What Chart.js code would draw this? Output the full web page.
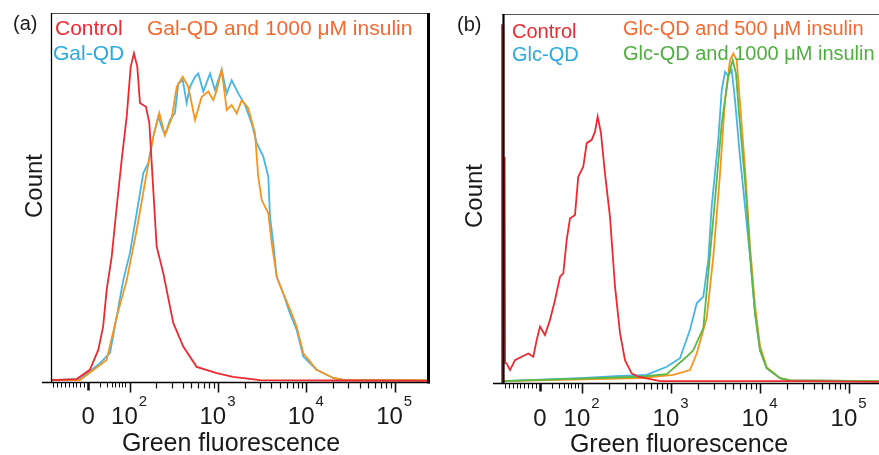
<!DOCTYPE html>
<html lang="en">
<head>
<meta charset="UTF-8">
<title>Green fluorescence histograms</title>
<script src="https://cdn.jsdelivr.net/npm/chart.js"></script>
<style>
  body { margin: 0; background: #fff; }
  #wrap { position: relative; width: 879px; height: 455px; }
  .panel { position: absolute; top: 0; height: 455px; }
  #panelA { left: 0; width: 440px; }
  #panelB { left: 440px; width: 439px; }
</style>
</head>
<body>
<div id="wrap">
  <div class="panel" id="panelA"><canvas id="chartA"></canvas></div>
  <div class="panel" id="panelB"><canvas id="chartB"></canvas></div>
</div>

<script>
// x = position on the biexponential axis in decades (2 = 10^2, 3 = 10^3 ...), y = relative count

// panel (a)
const galControlX = [1.11, 1.40, 1.55, 1.645, 1.70, 1.74, 1.797, 1.854, 1.91, 1.967, 2.012, 2.049, 2.087, 2.117, 2.185, 2.223, 2.268, 2.306, 2.381, 2.494, 2.607, 2.759, 2.986, 3.17, 3.476, 4.30, 5.40];
const galControlY = [0.5, 0.8, 3.3, 8.7, 15.0, 24.9, 34.0, 47.5, 60.2, 71.9, 85.4, 89.1, 85.4, 75.6, 74.6, 70.2, 52.0, 36.7, 29.5, 16.0, 9.6, 4.1, 2.4, 1.4, 0.5, 0.4, 0.3];

const galQdX = [1.11, 1.438, 1.665, 1.778, 1.854, 1.928, 2.004, 2.08, 2.155, 2.211, 2.268, 2.324, 2.363, 2.4, 2.457, 2.513, 2.551, 2.601, 2.646, 2.683, 2.74, 2.777, 2.834, 2.91, 2.966, 3.042, 3.099, 3.155, 3.23, 3.306, 3.382, 3.438, 3.513, 3.57, 3.589, 3.626, 3.665, 3.739, 3.815, 3.891, 3.966, 4.117, 4.305, 4.438, 5.40];
const galQdY = [0.5, 0.8, 5.1, 7.9, 17.7, 27.6, 35.0, 45.8, 56.6, 59.3, 66.5, 71.9, 69.2, 66.9, 71.0, 72.9, 80.9, 81.8, 75.6, 80.0, 82.7, 83.6, 78.7, 83.6, 79.1, 84.6, 78.2, 81.8, 78.2, 75.1, 70.1, 64.7, 61.1, 55.6, 44.8, 37.6, 28.5, 24.0, 18.6, 14.1, 6.9, 3.3, 1.1, 0.5, 0.5];

const galInsulinX = [1.11, 1.438, 1.74, 1.854, 1.967, 2.08, 2.193, 2.268, 2.336, 2.4, 2.476, 2.533, 2.601, 2.664, 2.74, 2.816, 2.89, 2.947, 2.986, 3.042, 3.099, 3.155, 3.212, 3.269, 3.343, 3.419, 3.456, 3.495, 3.57, 3.608, 3.665, 3.739, 3.834, 3.891, 3.966, 4.117, 4.305, 4.438, 5.40];
const galInsulinY = [0.5, 0.5, 6.0, 17.7, 27.6, 41.2, 56.6, 66.5, 72.9, 66.9, 71.5, 80.0, 82.7, 80.0, 71.0, 77.3, 78.7, 76.4, 79.1, 84.6, 73.7, 75.1, 72.8, 76.4, 74.2, 67.4, 55.6, 49.3, 45.7, 37.6, 28.5, 24.0, 18.6, 15.0, 7.8, 3.3, 1.1, 0.5, 0.5];

// panel (b)
const glcControlX = [1.10, 1.10, 1.112, 1.115, 1.13, 1.135, 1.153, 1.19, 1.246, 1.321, 1.396, 1.452, 1.49, 1.527, 1.583, 1.639, 1.696, 1.752, 1.789, 1.827, 1.864, 1.92, 1.957, 2.013, 2.052, 2.108, 2.145, 2.175, 2.212, 2.257, 2.313, 2.37, 2.426, 2.482, 2.557, 2.631, 2.875, 4.448, 5.336];
const glcControlY = [0, 97, 97, 61, 61, 5.4, 5.3, 3.5, 6.2, 7.1, 8.0, 7.1, 11.7, 15.3, 13.0, 17.1, 22.5, 28.8, 29.7, 38.8, 44.6, 45.5, 55.9, 58.6, 65.0, 65.9, 68.1, 72.2, 67.7, 56.8, 45.1, 26.1, 13.5, 6.2, 2.6, 1.7, 0.5, 0.5, 0.3];

const glcQdX = [1.10, 1.976, 2.426, 2.726, 2.951, 3.10, 3.212, 3.288, 3.362, 3.418, 3.456, 3.53, 3.569, 3.606, 3.64, 3.681, 3.718, 3.774, 3.831, 3.887, 3.943, 3.999, 4.074, 4.224, 4.336, 5.336];
const glcQdY = [0.5, 1.3, 1.9, 2.2, 4.4, 6.7, 14.4, 21.6, 23.4, 33.3, 47.8, 65.9, 79.4, 84.3, 83.2, 84.8, 76.7, 61.3, 47.8, 34.2, 18.9, 8.9, 4.0, 1.3, 0.7, 0.5];

const glc500X = [1.10, 2.651, 3.025, 3.212, 3.288, 3.40, 3.474, 3.55, 3.606, 3.662, 3.699, 3.737, 3.774, 3.831, 3.887, 3.943, 3.999, 4.074, 4.224, 4.336, 5.336];
const glc500Y = [0.5, 1.3, 2.2, 3.5, 8.0, 17.6, 34.2, 56.8, 76.7, 87.5, 89.3, 87.5, 76.0, 58.0, 37.0, 21.0, 10.0, 4.3, 1.3, 0.7, 0.5];

const glc1000X = [1.10, 2.651, 2.951, 3.175, 3.249, 3.362, 3.418, 3.493, 3.569, 3.643, 3.692, 3.729, 3.766, 3.83, 3.887, 3.943, 3.999, 4.074, 4.224, 4.336, 5.336];
const glc1000Y = [0.5, 1.7, 2.4, 7.1, 8.9, 14.9, 29.7, 49.6, 70.4, 83.0, 87.5, 83.9, 72.2, 55.0, 35.1, 18.9, 8.9, 4.0, 1.3, 0.7, 0.5];

// axis labels
const tickExponents = [2, 3, 4, 5];
const zeroLabel = '0';
const xTitle = 'Green fluorescence';
const yTitle = 'Count';

const FONT = '"Liberation Sans", Arial, sans-serif';
const RED = '#ec2a2f', BLUE = '#45b5e5', ORANGE = '#f7941e', GREEN = '#5cb947';

function pts(xs, ys) {
  return xs.map((x, i) => ({ x: x, y: ys[i] }));
}

function stroke(ctx, x1, y1, x2, y2, color, w) {
  ctx.strokeStyle = color;
  ctx.lineWidth = w;
  ctx.beginPath();
  ctx.moveTo(x1, y1);
  ctx.lineTo(x2, y2);
  ctx.stroke();
}

// frame, biexponential tick marks, labels and the coloured legend text
const flowFrame = {
  id: 'flowFrame',
  afterDatasetsDraw(chart, args, o) {
    const ctx = chart.ctx;
    const a = chart.chartArea;
    const xs = chart.scales.x;
    const base = a.bottom + 0.5;
    ctx.save();

    stroke(ctx, a.left, a.top + 0.5, a.right, a.top + 0.5, '#555', 1);
    stroke(ctx, a.left + o.leftShift, a.top, a.left + o.leftShift, base, '#000', o.leftW);
    if (o.rightW) stroke(ctx, a.right - o.rightW / 2, a.top, a.right - o.rightW / 2, base + 1, '#000', o.rightW);
    stroke(ctx, a.left - 9, base, a.right, base, '#000', 1.6);

    // tick marks
    const ticks = [];
    for (let i = 1; i <= 9; i++) ticks.push([o.zero - i * 0.044, 5, 1]);
    [-0.335, -0.26, -0.205, -0.16, -0.12, -0.085, -0.05].forEach(d => ticks.push([2 + d, 5, 1]));
    for (let d = 2; d <= 4; d++) {
      for (let k = 2; k <= 9; k++) ticks.push([d + Math.log10(k), 6, 1.2]);
    }
    tickExponents.forEach(d => ticks.push([d, 10, 1.6]));
    ticks.push([o.zero, 8, 2.6]);
    ticks.forEach(t => {
      if (t[0] < xs.min || t[0] > xs.max) return;
      const px = Math.round(xs.getPixelForValue(t[0])) + 0.5;
      stroke(ctx, px, base, px, base + t[1], '#111', t[2]);
    });

    // tick labels
    ctx.fillStyle = '#1a1a1a';
    ctx.textBaseline = 'alphabetic';
    ctx.textAlign = 'center';
    ctx.font = '24px ' + FONT;
    ctx.fillText(zeroLabel, xs.getPixelForValue(o.zero), o.labelY);
    ctx.textAlign = 'left';
    tickExponents.forEach(d => {
      ctx.font = '24px ' + FONT;
      const wb = ctx.measureText('10').width;
      ctx.font = '15px ' + FONT;
      const ws = ctx.measureText(String(d)).width;
      const left = xs.getPixelForValue(d) - (wb + ws) / 2 - 1;
      ctx.font = '24px ' + FONT;
      ctx.fillText('10', left, o.labelY);
      ctx.font = '15px ' + FONT;
      ctx.fillText(String(d), left + wb + 1, o.labelY - 18);
    });

    // axis titles
    ctx.textAlign = 'center';
    ctx.font = '25px ' + FONT;
    ctx.fillText(xTitle, o.titleX, o.titleY);
    ctx.save();
    ctx.translate(o.countX, o.countY);
    ctx.rotate(-Math.PI / 2);
    ctx.font = '24px ' + FONT;
    ctx.fillText(yTitle, 0, 0);
    ctx.restore();

    // panel tag and legend text
    ctx.textAlign = 'left';
    ctx.font = '20px ' + FONT;
    ctx.fillText(o.tag, o.tagX, o.tagY);
    ctx.font = o.legendSize + 'px ' + FONT;
    o.legend.forEach(l => {
      ctx.fillStyle = l.color;
      ctx.fillText(l.text, l.x, l.y);
    });
    ctx.restore();
  }
};

function makePanel(id, xMin, xMax, padding, series, deco) {
  return new Chart(document.getElementById(id), {
    type: 'line',
    data: {
      datasets: series.map(s => ({
        label: s.label,
        data: pts(s.x, s.y),
        borderColor: s.color,
        borderWidth: 1.8,
        pointRadius: 0,
        tension: 0,
        fill: false,
        clip: 4
      }))
    },
    options: {
      responsive: true,
      maintainAspectRatio: false,
      animation: false,
      layout: { padding: padding },
      scales: {
        x: { type: 'linear', min: xMin, max: xMax, display: false },
        y: { min: 0, max: 100, display: false }
      },
      plugins: {
        legend: { display: false },
        tooltip: { enabled: false },
        flowFrame: deco
      }
    },
    plugins: [flowFrame]
  });
}

makePanel('chartA', 1.11, 5.40, { left: 51, right: 10, top: 13, bottom: 73 }, [
  { label: 'Control', x: galControlX, y: galControlY, color: RED },
  { label: 'Gal-QD and 1000 μM insulin', x: galInsulinX, y: galInsulinY, color: ORANGE },
  { label: 'Gal-QD', x: galQdX, y: galQdY, color: BLUE }
], {
  zero: 1.53, leftShift: 0.5, leftW: 1.3, rightW: 3,
  labelY: 424, titleX: 231, titleY: 451, countX: 42, countY: 186,
  tag: '(a)', tagX: 13, tagY: 30, legendSize: 21,
  legend: [
    { text: 'Control', color: RED, x: 55, y: 35 },
    { text: 'Gal-QD', color: '#2aa9e0', x: 53, y: 60 },
    { text: 'Gal-QD and 1000 μM insulin', color: '#f26a30', x: 147, y: 35 }
  ]
});

makePanel('chartB', 1.10, 5.336, { left: 62, right: 0, top: 14, bottom: 72 }, [
  { label: 'Control', x: glcControlX, y: glcControlY, color: RED },
  { label: 'Glc-QD and 1000 μM insulin', x: glc1000X, y: glc1000Y, color: GREEN },
  { label: 'Glc-QD and 500 μM insulin', x: glc500X, y: glc500Y, color: ORANGE },
  { label: 'Glc-QD', x: glcQdX, y: glcQdY, color: BLUE }
], {
  zero: 1.527, leftShift: 1.5, leftW: 2.2, rightW: 0,
  labelY: 426, titleX: 239, titleY: 452, countX: 42, countY: 196,
  tag: '(b)', tagX: 17, tagY: 31, legendSize: 20,
  legend: [
    { text: 'Control', color: RED, x: 72, y: 38 },
    { text: 'Glc-QD', color: '#2aa9e0', x: 72, y: 61 },
    { text: 'Glc-QD and 500 μM insulin', color: '#f26a30', x: 183, y: 35 },
    { text: 'Glc-QD and 1000 μM insulin', color: '#4fae3f', x: 183, y: 60 }
  ]
});
</script>
</body>
</html>
